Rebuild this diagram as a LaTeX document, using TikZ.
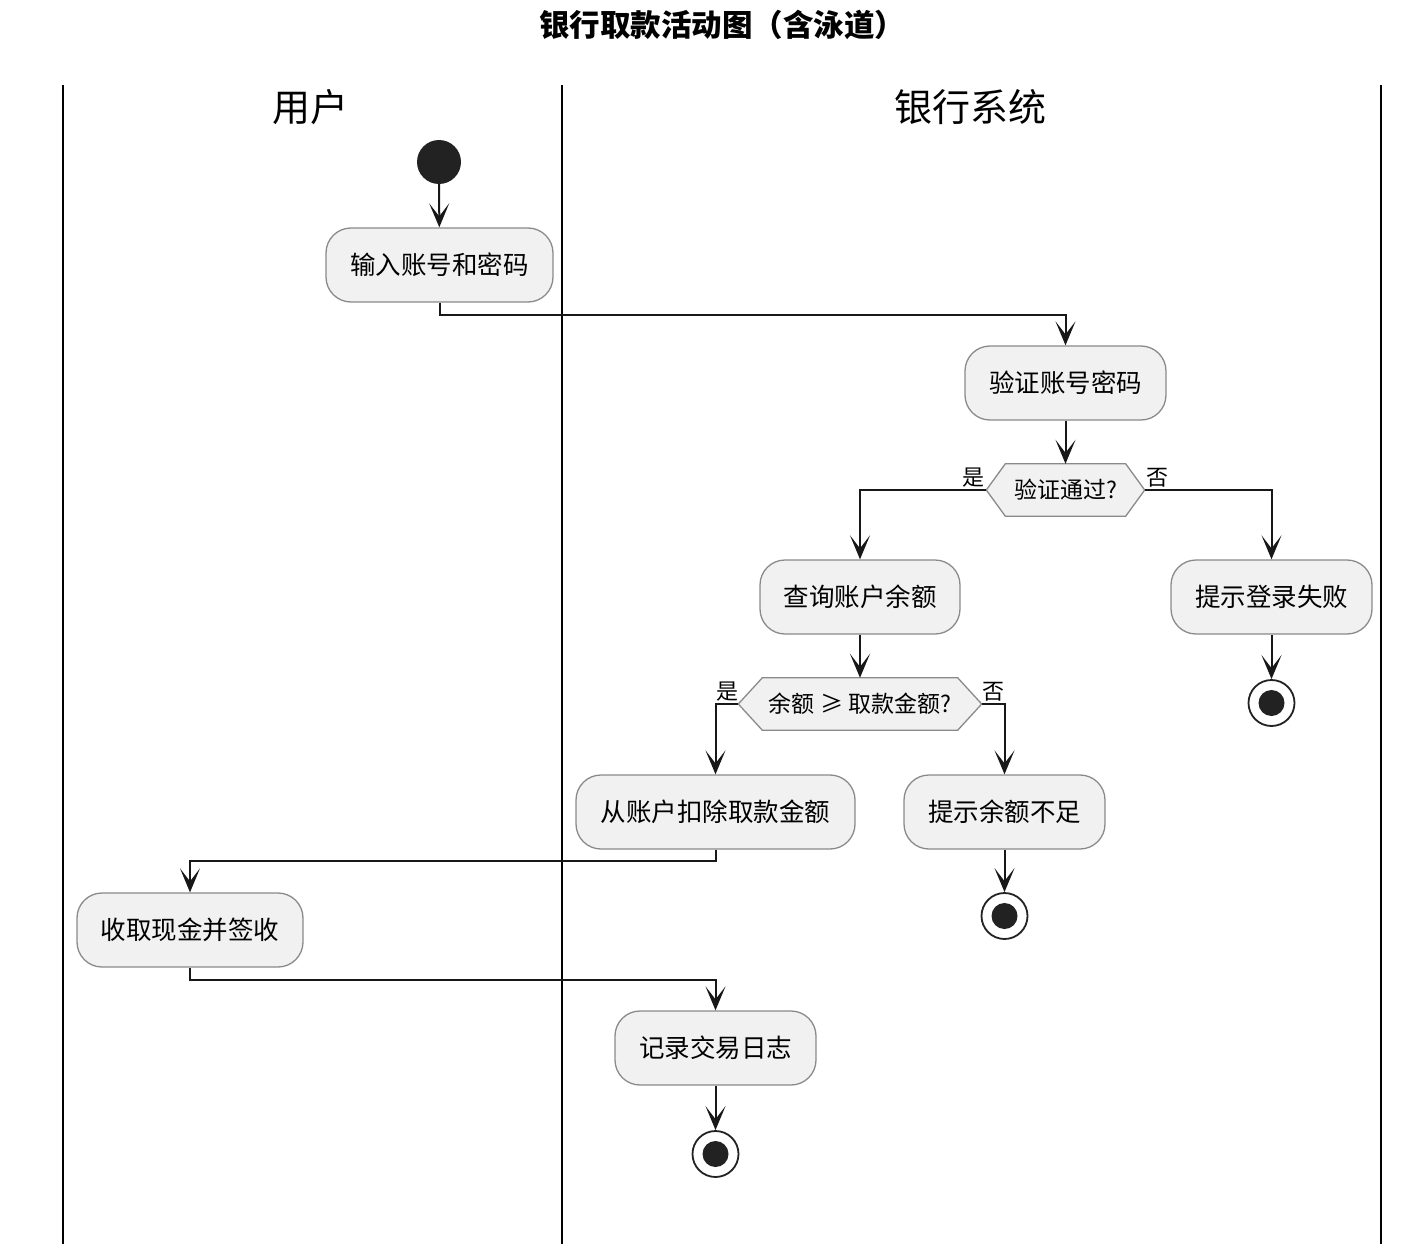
\documentclass[tikz,border=0pt]{standalone}
\usepackage{fontspec}
\setmainfont{Noto Sans CJK SC}
\usetikzlibrary{arrows.meta,backgrounds}
\definecolor{nodefill}{HTML}{F1F1F1}
\definecolor{nodeborder}{HTML}{8A8A8A}
\definecolor{lineclr}{HTML}{181818}
\definecolor{dotclr}{HTML}{222222}
\tikzset{
  act/.style={draw=nodeborder, fill=nodefill, rounded corners=25, line width=1.3,
    font=\fontsize{25.5}{29}\selectfont, inner sep=0, minimum height=74},
  hexnode/.style={inner sep=0, minimum height=52, font=\fontsize{23}{27}\selectfont},
  hexline/.style={draw=nodeborder, fill=nodefill, line width=1.3},
  flow/.style={draw=lineclr, line width=2, -{Stealth[length=24,width=20,inset=13]}},
  lane/.style={draw=black, line width=2.4},
  lbl/.style={font=\fontsize{22}{25}\selectfont, inner sep=1},
  startdot/.style={circle, fill=dotclr, minimum size=44, inner sep=0},
  endring/.style={circle, draw=dotclr, fill=white, line width=1.8, minimum size=46, inner sep=0},
  enddot/.style={circle, fill=dotclr, minimum size=26, inner sep=0},
}
\begin{document}
\begin{tikzpicture}[x=1pt, y=1pt]
\useasboundingbox (0,0) rectangle (1414,-1244);
\node[font=\fontsize{30.5}{34}\selectfont\bfseries] (title) at (722,-25) {银行取款活动图（含泳道）};
% lanes
\coordinate (l1t) at (63,-85);   \coordinate (l1b) at (63,-1244);
\coordinate (l2t) at (562,-85);  \coordinate (l2b) at (562,-1244);
\coordinate (l3t) at (1381,-85); \coordinate (l3b) at (1381,-1244);
\draw[lane] (l1t) -- (l1b);
\draw[lane] (l2t) -- (l2b);
\draw[lane] (l3t) -- (l3b);
\node[font=\fontsize{38}{43}\selectfont] (h1) at (310,-107) {用户};
\node[font=\fontsize{38}{43}\selectfont] (h2) at (970,-107) {银行系统};
% nodes
\node[startdot] (start) at (439,-162) {};
\node[act, minimum width=227] (n1) at (439.5,-265) {输入账号和密码};
\node[act, minimum width=201] (n2) at (1065.5,-383) {验证账号密码};
\node[hexnode, minimum width=158] (d1) at (1065.5,-490) {验证通过?};
\node[act, minimum width=200] (n3) at (860,-597) {查询账户余额};
\node[act, minimum width=201] (n4) at (1271.5,-597) {提示登录失败};
\node[endring] (e1) at (1271.5,-703) {};
\node[enddot] (e1d) at (e1) {};
\node[hexnode, minimum width=243] (d2) at (860,-704) {余额 ≥ 取款金额?};
\node[act, minimum width=279] (n5) at (715.5,-812) {从账户扣除取款金额};
\node[act, minimum width=201] (n6) at (1004.5,-812) {提示余额不足};
\node[endring] (e2) at (1004.5,-916) {};
\node[enddot] (e2d) at (e2) {};
\node[act, minimum width=226] (n7) at (190,-930) {收取现金并签收};
\node[act, minimum width=201] (n8) at (715.5,-1048) {记录交易日志};
\node[endring] (e3) at (715.5,-1154) {};
\node[enddot] (e3d) at (e3) {};
% hexagons
\begin{scope}[on background layer]
\draw[hexline] (d1.west) -- ([xshift=19]d1.north west) -- ([xshift=-19]d1.north east) -- (d1.east) -- ([xshift=-19]d1.south east) -- ([xshift=19]d1.south west) -- cycle;
\draw[hexline] (d2.west) -- ([xshift=24]d2.north west) -- ([xshift=-24]d2.north east) -- (d2.east) -- ([xshift=-24]d2.south east) -- ([xshift=24]d2.south west) -- cycle;
\end{scope}
% labels
\node[lbl, anchor=south east] (y1) at ([xshift=-1,yshift=2]d1.west) {是};
\node[lbl, anchor=south west] (no1) at ([xshift=1,yshift=2]d1.east) {否};
\node[lbl, anchor=south east] (y2) at ([xshift=1,yshift=2]d2.west) {是};
\node[lbl, anchor=south west] (no2) at ([xshift=0,yshift=2]d2.east) {否};
% flows
\draw[flow] (start) -- (n1);
\draw[flow] (n1.south) -- ++(0,-12) -| (n2.north);
\draw[flow] (n2) -- (d1);
\draw[flow] (d1.west) -| (n3.north);
\draw[flow] (d1.east) -| (n4.north);
\draw[flow] (n4) -- (e1);
\draw[flow] (n3) -- (d2);
\draw[flow] (d2.west) -| (n5.north);
\draw[flow] (d2.east) -| (n6.north);
\draw[flow] (n6) -- (e2);
\draw[flow] (n5.south) -- ++(0,-11) -| (n7.north);
\draw[flow] (n7.south) -- ++(0,-12) -| (n8.north);
\draw[flow] (n8) -- (e3);
\end{tikzpicture}
\end{document}
